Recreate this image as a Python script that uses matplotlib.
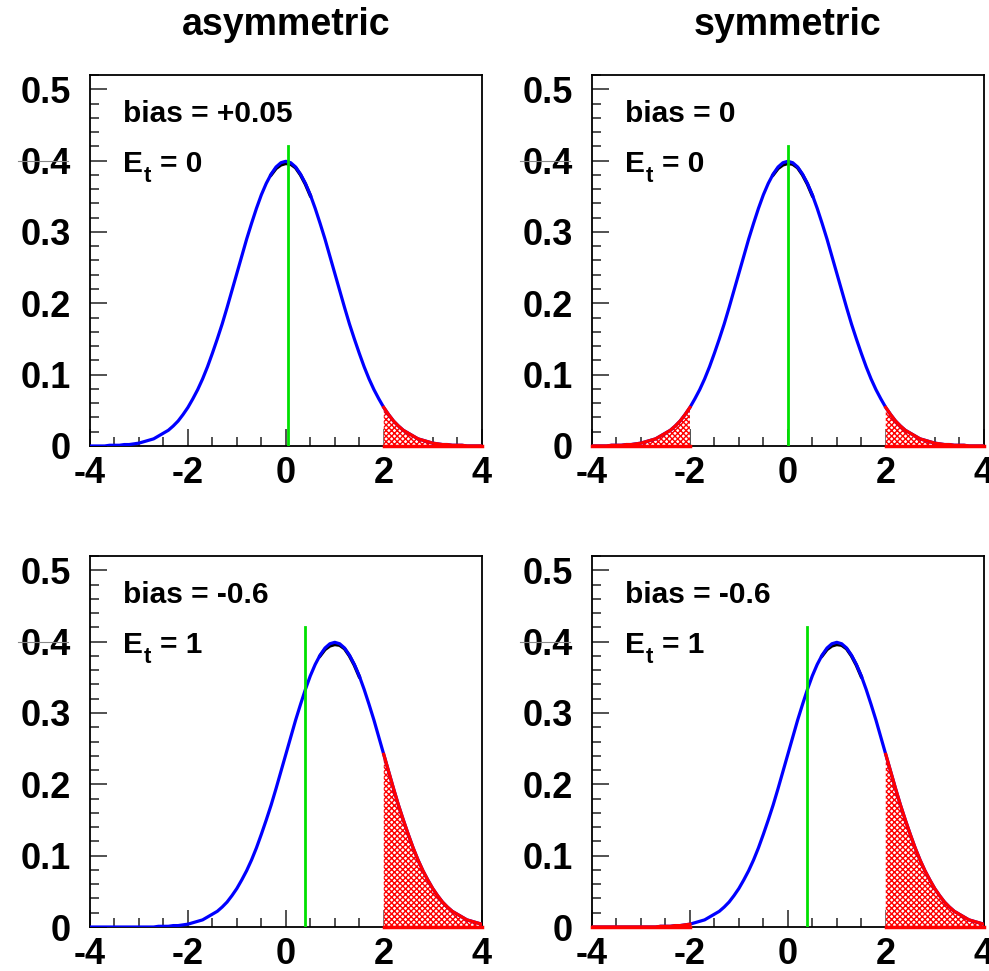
import matplotlib
matplotlib.use("Agg")
import matplotlib.pyplot as plt
from matplotlib.ticker import MultipleLocator, FixedFormatter, FixedLocator

plt.rcParams['font.family'] = ['Liberation Sans', 'DejaVu Sans']
plt.rcParams['font.weight'] = 'bold'
plt.rcParams['hatch.linewidth'] = 1.0

# sampled curve, x = -4 .. 4 in steps of 0.1
x = [round(-4 + 0.1 * i, 1) for i in range(81)]

# centred curve (top row)
y_top = [0.000, 0.000, 0.000, 0.000, 0.001, 0.001, 0.001, 0.002, 0.002, 0.003,
         0.004, 0.006, 0.008, 0.010, 0.014, 0.018, 0.022, 0.028, 0.035, 0.044,
         0.054, 0.066, 0.079, 0.094, 0.111, 0.130, 0.150, 0.171, 0.194, 0.218,
         0.242, 0.266, 0.290, 0.312, 0.333, 0.352, 0.368, 0.381, 0.391, 0.397,
         0.399,
         0.397, 0.391, 0.381, 0.368, 0.352, 0.333, 0.312, 0.290, 0.266, 0.242,
         0.218, 0.194, 0.171, 0.150, 0.130, 0.111, 0.094, 0.079, 0.066, 0.054,
         0.044, 0.035, 0.028, 0.022, 0.018, 0.014, 0.010, 0.008, 0.006, 0.004,
         0.003, 0.002, 0.002, 0.001, 0.001, 0.001, 0.000, 0.000, 0.000, 0.000]

# shifted curve (bottom row)
y_bot = [0.000, 0.000, 0.000, 0.000, 0.000, 0.000, 0.000, 0.000, 0.000, 0.000,
         0.000, 0.000, 0.000, 0.000, 0.001, 0.001, 0.001, 0.002, 0.002, 0.003,
         0.004, 0.006, 0.008, 0.010, 0.014, 0.018, 0.022, 0.028, 0.035, 0.044,
         0.054, 0.066, 0.079, 0.094, 0.111, 0.130, 0.150, 0.171, 0.194, 0.218,
         0.242, 0.266, 0.290, 0.312, 0.333, 0.352, 0.368, 0.381, 0.391, 0.397,
         0.399,
         0.397, 0.391, 0.381, 0.368, 0.352, 0.333, 0.312, 0.290, 0.266, 0.242,
         0.218, 0.194, 0.171, 0.150, 0.130, 0.111, 0.094, 0.079, 0.066, 0.054,
         0.044, 0.035, 0.028, 0.022, 0.018, 0.014, 0.010, 0.008, 0.006, 0.004]

# underlying reference curve near the peak (drawn in black)
x_ref_top = [-0.3, -0.2, -0.1, 0.0, 0.1, 0.2, 0.3, 0.4, 0.5]
y_ref_top = [0.380, 0.389, 0.394, 0.396, 0.395, 0.390, 0.380, 0.367, 0.351]
x_ref_bot = [0.7, 0.8, 0.9, 1.0, 1.1, 1.2, 1.3, 1.4, 1.5]
y_ref_bot = [0.380, 0.389, 0.394, 0.396, 0.395, 0.390, 0.380, 0.367, 0.351]

columns = ['asymmetric', 'symmetric']
bias_labels = [['+0.05', '0'], ['-0.6', '-0.6']]
et_labels = [['0', '0'], ['1', '1']]
green_pos = [[0.05, 0.0], [0.4, 0.4]]
green_top = 0.42
tail_cut = 2.0

yticks = [0.0, 0.1, 0.2, 0.3, 0.4, 0.5]
ytick_labels = ['0', '0.1', '0.2', '0.3', '0.4', '0.5']
xticks = [-4, -2, 0, 2, 4]

fig = plt.figure(figsize=(9.89, 9.71), dpi=100)
lefts = [0.0910, 0.5986]
bottoms = [0.5407, 0.0453]
width = 0.3960
height = 0.3821

hatch_kw = dict(facecolor='white', edgecolor='red', hatch='xxxxxx',
                linewidth=0, zorder=2)
label_fs = 21.5

for r in range(2):
    y = y_top if r == 0 else y_bot
    xr, yr = (x_ref_top, y_ref_top) if r == 0 else (x_ref_bot, y_ref_bot)
    for c in range(2):
        ax = fig.add_axes([lefts[c], bottoms[r], width, height])
        ax.set_xlim(-4, 4)
        ax.set_ylim(0, 0.52)

        # hatched tails beyond the cut
        tails = [[i for i in range(len(x)) if x[i] >= tail_cut]]
        if c == 1:
            tails.append([i for i in range(len(x)) if x[i] <= -tail_cut])
        for idx in tails:
            tx = [x[i] for i in idx]
            ty = [y[i] for i in idx]
            ax.fill_between(tx, 0, ty, **hatch_kw)

        ax.plot(xr, yr, color='black', lw=2.5, zorder=3)
        ax.plot(x, y, color='blue', lw=2.3, zorder=4)
        for idx in tails:
            tx = [x[i] for i in idx]
            ty = [y[i] for i in idx]
            ax.plot(tx, ty, color='red', lw=2.3, zorder=5)
            ax.plot([tx[0], tx[-1]], [0, 0], color='red', lw=2.5, zorder=5,
                    clip_on=False)

        ax.plot([green_pos[r][c]] * 2, [0, green_top], color='#00e000', lw=2,
                zorder=6)

        # labels: bias line, then E with a dropped subscript t
        ax.text(0.084, 0.873, 'bias = ' + bias_labels[r][c], transform=ax.transAxes,
                fontsize=label_fs, fontweight='bold', va='baseline', ha='left')
        anchor = (0.084, 0.7385)
        ax.annotate('E', anchor, xycoords='axes fraction', fontsize=label_fs,
                    fontweight='bold', va='baseline', ha='left')
        ax.annotate('t', anchor, xycoords='axes fraction', xytext=(15, -7.5),
                    textcoords='offset points', fontsize=16, fontweight='bold',
                    va='baseline', ha='left')
        ax.annotate('= ' + et_labels[r][c], anchor, xycoords='axes fraction',
                    xytext=(26.5, 0), textcoords='offset points', fontsize=label_fs,
                    fontweight='bold', va='baseline', ha='left')

        # ROOT-like axes
        for s in ['top', 'right', 'left', 'bottom']:
            ax.spines[s].set_linewidth(1.3)
        ax.xaxis.set_major_locator(FixedLocator(xticks))
        ax.xaxis.set_minor_locator(MultipleLocator(0.5))
        ax.yaxis.set_major_locator(FixedLocator(yticks))
        ax.yaxis.set_major_formatter(FixedFormatter(ytick_labels))
        ax.yaxis.set_minor_locator(MultipleLocator(0.02))
        ax.tick_params(which='both', direction='in', top=False, right=False,
                       width=1.2, color='#333333')
        ax.tick_params(axis='x', which='major', length=12, labelsize=26, pad=7)
        ax.tick_params(axis='x', which='minor', length=6.5)
        ax.tick_params(axis='y', which='major', length=12, labelsize=26, pad=14)
        ax.tick_params(axis='y', which='minor', length=6.5)
        ax.set_xticklabels([str(v) for v in xticks])
        for lab in ax.get_xticklabels() + ax.get_yticklabels():
            lab.set_fontweight('bold')

        # thin rule through the 0.4 label
        ax.plot([-0.185, -0.055], [0.4, 0.4], color='#888888', lw=0.8,
                transform=ax.get_yaxis_transform(), clip_on=False, zorder=7)

        if r == 0:
            ax.set_title(columns[c], fontsize=27, fontweight='bold', pad=29)

fig.savefig('out.png', dpi=100)
